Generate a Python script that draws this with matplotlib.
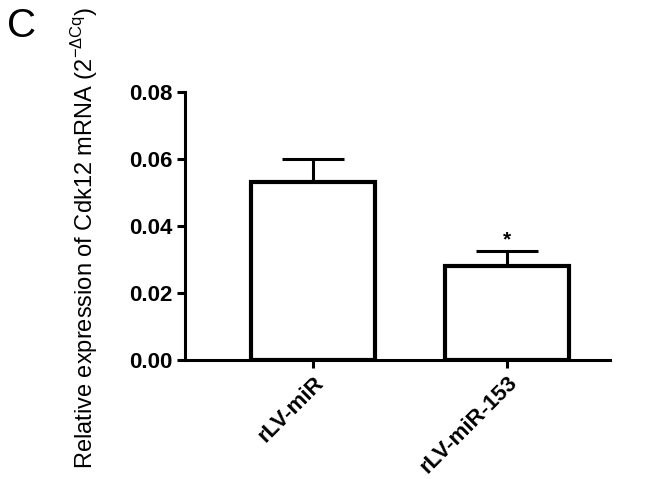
import numpy as np
import matplotlib
matplotlib.use("Agg")
import matplotlib.pyplot as plt

plt.rcParams['font.family'] = ['Liberation Sans', 'DejaVu Sans']

groups = ['rLV-miR', 'rLV-miR-153']
means = [0.0532, 0.0282]
sems = [0.0068, 0.0043]
signif = ['', '*']
yticks = [0.00, 0.02, 0.04, 0.06, 0.08]

fig = plt.figure(figsize=(6.46, 4.79), dpi=100)
ax = fig.add_axes([185 / 646, 1 - 360 / 479, 425 / 646, 268 / 479])

x = np.arange(len(groups))
ax.bar(x, means, width=0.64, color='white', edgecolor='black', linewidth=3.0, zorder=2)
ax.errorbar(x, means, yerr=[np.zeros(len(sems)), sems], fmt='none', ecolor='black',
            elinewidth=2.2, capsize=22.5, capthick=2.2, zorder=1)
for xi, m, s, t in zip(x, means, sems, signif):
    if t:
        ax.text(xi, m + s + 0.0004, t, ha='center', va='bottom', fontsize=15, fontweight='bold')

ax.set_xlim(-0.66, 1.53)
ax.set_ylim(0, 0.08)
ax.set_yticks(yticks)
ax.set_yticklabels(['%.2f' % v for v in yticks], fontsize=16, fontweight='bold')
ax.set_xticks(x)
ax.set_xticklabels(groups, rotation=45, ha='right', rotation_mode='anchor',
                   fontsize=16, fontweight='bold')
for sp in ['top', 'right']:
    ax.spines[sp].set_visible(False)
for sp in ['left', 'bottom']:
    ax.spines[sp].set_linewidth(2.2)
ax.tick_params(width=2.2, length=6, pad=3)

ax.set_ylabel('Relative expression of Cdk12 mRNA (2$^{\\mathregular{-ΔCq}}$)', fontsize=17)
ax.yaxis.set_label_coords(-0.2, 0.455)
fig.text(7 / 646, 1 - 26 / 479, 'C', fontsize=29, va='center', ha='left')

fig.savefig('out.png', dpi=100)
